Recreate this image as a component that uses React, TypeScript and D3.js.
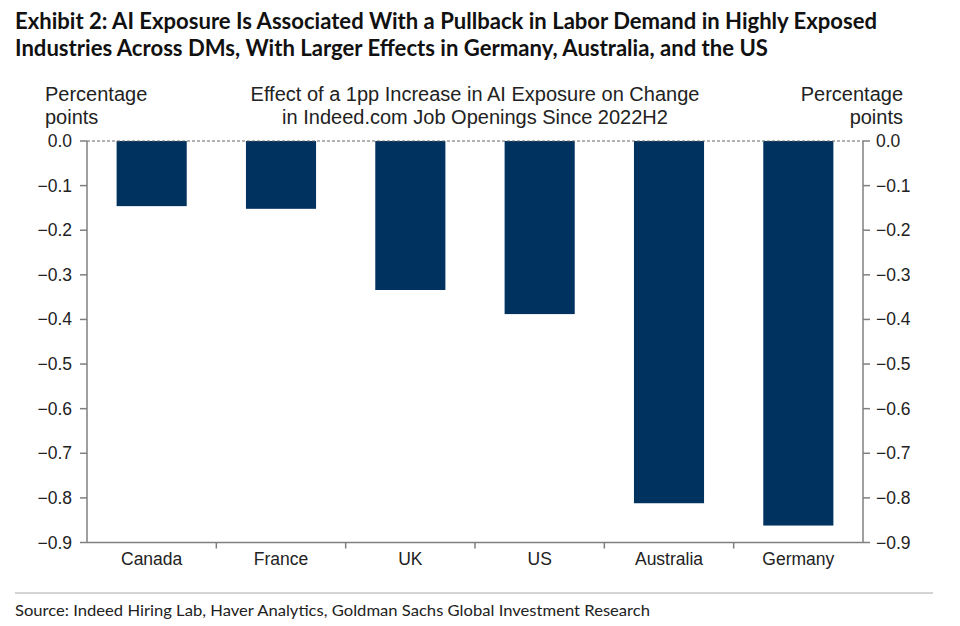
import React from "react";
import * as d3 from "d3";

const categories = ["Canada", "France", "UK", "US", "Australia", "Germany"];
const values = [-0.146, -0.152, -0.334, -0.388, -0.812, -0.862];
const yTicks = [0, -0.1, -0.2, -0.3, -0.4, -0.5, -0.6, -0.7, -0.8, -0.9];
const titleLines = [
  "Exhibit 2: AI Exposure Is Associated With a Pullback in Labor Demand in Highly Exposed",
  "Industries Across DMs, With Larger Effects in Germany, Australia, and the US",
];
const titleWidths = [862, 753];
const subtitleLines = [
  "Effect of a 1pp Increase in AI Exposure on Change",
  "in Indeed.com Job Openings Since 2022H2",
];
const sourceText =
  "Source: Indeed Hiring Lab, Haver Analytics, Goldman Sachs Global Investment Research";

const W = 960;
const H = 626;
const left = 87;
const right = 863;
const top = 141;
const bottom = 542.5;
const axisColor = "#7f7f7f";
const barColor = "#003260";
const fmt = (v: number) => (v === 0 ? "0.0" : "\u2212" + Math.abs(v).toFixed(1));

export default function App() {
  const x = d3.scaleBand<string>().domain(categories).range([left, right]).paddingInner(0.458).paddingOuter(0.229);
  const y = d3.scaleLinear().domain([0, -0.9]).range([top, bottom]);
  const step = x.step();
  const font = "'Liberation Sans', Arial, sans-serif";
  return (
    <svg width={W} height={H} style={{ position: "absolute", left: 0, top: 0, background: "#fff" }}>
      <rect width={W} height={H} fill="#fff" />
      {titleLines.map((t, i) => (
        <text key={i} x={15} y={29 + i * 27} fontFamily="Lato, 'Open Sans', sans-serif" fontWeight={700} fontSize={22} fill="#111"
          textLength={titleWidths[i]} lengthAdjust="spacingAndGlyphs">
          {t}
        </text>
      ))}
      <text x={45} y={101} fontFamily={font} fontSize={20} fill="#222">Percentage</text>
      <text x={45} y={124} fontFamily={font} fontSize={20} fill="#222">points</text>
      <text x={903} y={101} fontFamily={font} fontSize={20} fill="#222" textAnchor="end">Percentage</text>
      <text x={903} y={124} fontFamily={font} fontSize={20} fill="#222" textAnchor="end">points</text>
      {subtitleLines.map((t, i) => (
        <text key={i} x={475} y={101 + i * 23} fontFamily={font} fontSize={20} fill="#222" textAnchor="middle">
          {t}
        </text>
      ))}
      {categories.map((c, i) => {
        const v = values[i];
        return (
          <rect key={c} x={x(c)} y={y(0)} width={x.bandwidth()} height={y(v) - y(0)} fill={barColor} />
        );
      })}
      <line x1={left} x2={right} y1={y(0)} y2={y(0)} stroke="#666" strokeWidth={1} strokeDasharray="3,2" />
      <line x1={left} x2={left} y1={top} y2={bottom} stroke={axisColor} strokeWidth={1.5} />
      <line x1={right} x2={right} y1={top} y2={bottom} stroke={axisColor} strokeWidth={1.5} />
      <line x1={left} x2={right} y1={bottom} y2={bottom} stroke={axisColor} strokeWidth={1.5} />
      {yTicks.map((t) => (
        <g key={t}>
          <line x1={left - 7} x2={left} y1={y(t)} y2={y(t)} stroke={axisColor} strokeWidth={1.5} />
          <line x1={right} x2={right + 7} y1={y(t)} y2={y(t)} stroke={axisColor} strokeWidth={1.5} />
          <text x={72} y={y(t) + 6} fontFamily={font} fontSize={17.5} fill="#222" textAnchor="end">{fmt(t)}</text>
          <text x={876} y={y(t) + 6} fontFamily={font} fontSize={17.5} fill="#222">{fmt(t)}</text>
        </g>
      ))}
      {categories.slice(1).map((c) => (
        <line key={c} x1={x(c)! - (step - x.bandwidth()) / 2} x2={x(c)! - (step - x.bandwidth()) / 2} y1={bottom} y2={bottom + 6} stroke={axisColor} strokeWidth={1.5} />
      ))}
      {categories.map((c) => (
        <text key={c} x={x(c)! + x.bandwidth() / 2} y={bottom + 22} fontFamily={font} fontSize={17.5} fill="#222" textAnchor="middle">
          {c}
        </text>
      ))}
      <line x1={15} x2={933} y1={593} y2={593} stroke="#d4d4d4" strokeWidth={2} />
      <text x={15} y={616} fontFamily="Lato, 'Open Sans', sans-serif" fontSize={16} fill="#222" textLength={635} lengthAdjust="spacingAndGlyphs">{sourceText}</text>
    </svg>
  );
}
